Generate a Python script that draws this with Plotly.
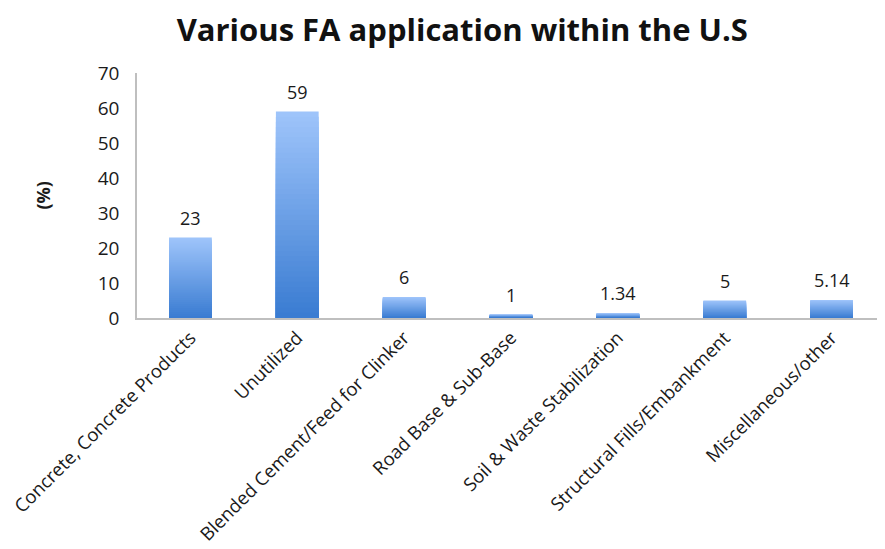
import plotly.graph_objects as go

categories = ["Concrete, Concrete Products", "Unutilized", "Blended Cement/Feed for Clinker",
              "Road Base & Sub-Base", "Soil & Waste Stabilization", "Structural Fills/Embankment",
              "Miscellaneous/other"]
values = [23, 59, 6, 1, 1.34, 5, 5.14]
labels = ["23", "59", "6", "1", "1.34", "5", "5.14"]

top_rgb = (158, 196, 250)
bot_rgb = (58, 124, 210)
N = 40

fig = go.Figure()
for k in range(N):
    f = 1 - k / N
    t = k / (N - 1)
    c = tuple(round(top_rgb[i] + (bot_rgb[i] - top_rgb[i]) * t) for i in range(3))
    fig.add_trace(go.Bar(
        x=categories, y=[v * f for v in values],
        marker=dict(color="rgb(%d,%d,%d)" % c, line=dict(width=0)),
        width=0.4, hoverinfo="skip", showlegend=False,
    ))

annotations = [dict(text="<b>(%)</b>", x=-0.127, y=0.5, xref="paper", yref="paper",
                    xanchor="center", showarrow=False, textangle=-90, font=dict(size=18))]
for cat, v, lab in zip(categories, values, labels):
    annotations.append(dict(text=lab, x=cat, y=v, xref="x", yref="y", showarrow=False,
                            yanchor="middle", yshift=20, font=dict(size=18, color="#1a1a1a")))

fig.update_layout(
    width=877, height=541,
    barmode="overlay",
    paper_bgcolor="white", plot_bgcolor="white",
    margin=dict(l=129, r=0, t=65, b=231, autoexpand=False),
    font=dict(family="Open Sans", color="#1a1a1a"),
    title=dict(text="<b>Various FA application within the U.S</b>", x=0.518, xanchor="center",
               y=0.96, yanchor="middle", font=dict(size=31, family="Open Sans", color="#111")),
    showlegend=False,
    annotations=annotations,
)
fig.update_xaxes(tickangle=-45, tickfont=dict(size=18.5), showline=True, linecolor="#bfbfbf",
                 linewidth=1.5, ticks="", showgrid=False, automargin=False)
fig.update_yaxes(range=[0, 70], dtick=10, tickfont=dict(size=19), showline=True, linecolor="#bfbfbf",
                 linewidth=1.5, ticks="", showgrid=False, zeroline=False, automargin=False,
                 ticklabelstandoff=12)

fig.write_html("out.html")
